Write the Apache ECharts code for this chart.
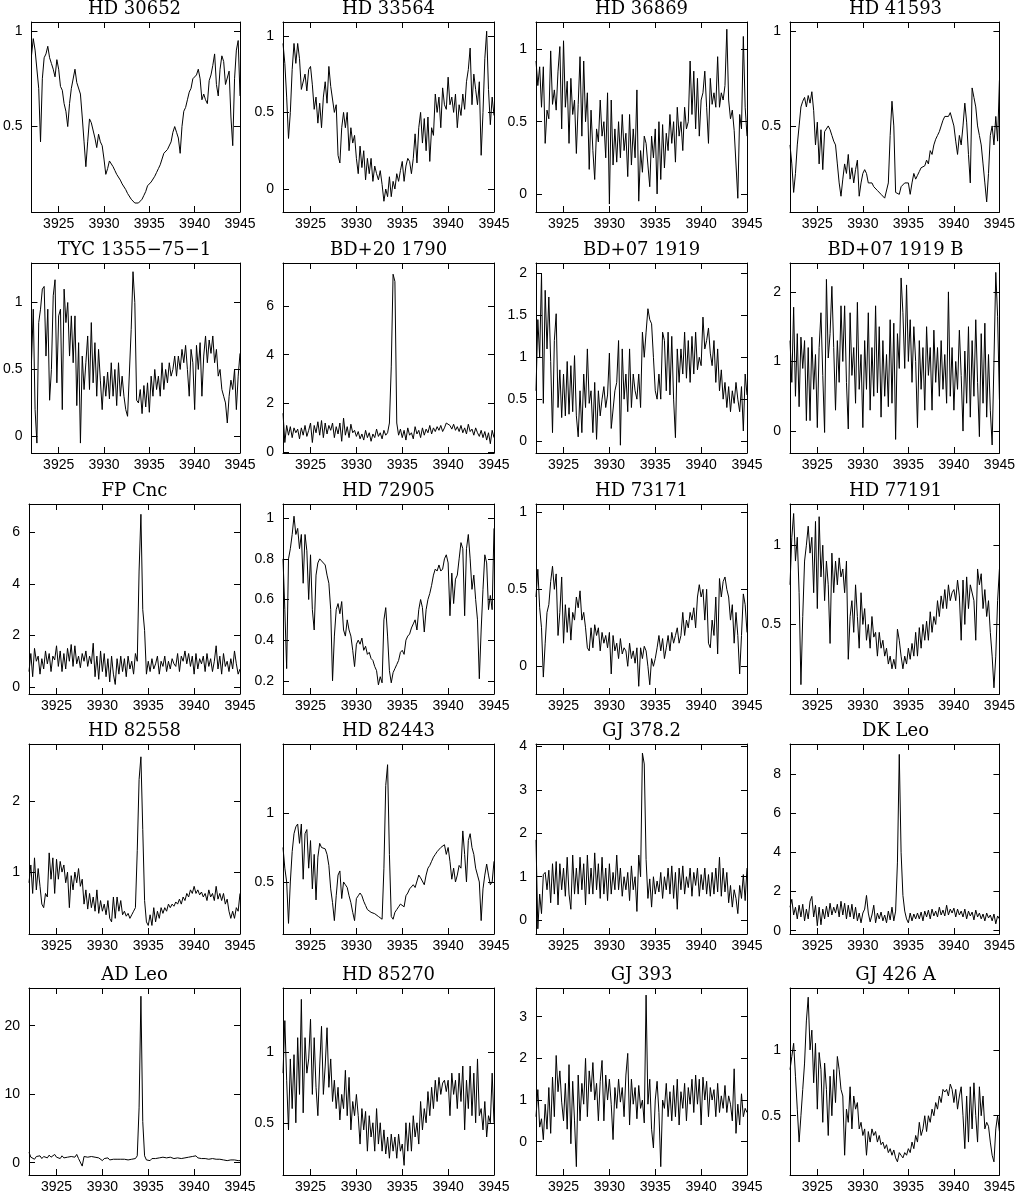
<!DOCTYPE html>
<html>
<head>
<meta charset="utf-8">
<script src="https://cdn.jsdelivr.net/npm/echarts@6/dist/echarts.min.js"></script>
<style>
html, body { margin: 0; padding: 0; background: #fff; }
#chart { width: 1018px; height: 1194px; }
</style>
</head>
<body>
<div id="chart"></div>
<script>
// wavelength grid (Angstrom), one sample every 0.2 A
const wavelength = [
  3922.0, 3922.2, 3922.4, 3922.6, 3922.8, 3923.0, 3923.2, 3923.4, 3923.6, 3923.8,
  3924.0, 3924.2, 3924.4, 3924.6, 3924.8, 3925.0, 3925.2, 3925.4, 3925.6, 3925.8,
  3926.0, 3926.2, 3926.4, 3926.6, 3926.8, 3927.0, 3927.2, 3927.4, 3927.6, 3927.8,
  3928.0, 3928.2, 3928.4, 3928.6, 3928.8, 3929.0, 3929.2, 3929.4, 3929.6, 3929.8,
  3930.0, 3930.2, 3930.4, 3930.6, 3930.8, 3931.0, 3931.2, 3931.4, 3931.6, 3931.8,
  3932.0, 3932.2, 3932.4, 3932.6, 3932.8, 3933.0, 3933.2, 3933.4, 3933.6, 3933.8,
  3934.0, 3934.2, 3934.4, 3934.6, 3934.8, 3935.0, 3935.2, 3935.4, 3935.6, 3935.8,
  3936.0, 3936.2, 3936.4, 3936.6, 3936.8, 3937.0, 3937.2, 3937.4, 3937.6, 3937.8,
  3938.0, 3938.2, 3938.4, 3938.6, 3938.8, 3939.0, 3939.2, 3939.4, 3939.6, 3939.8,
  3940.0, 3940.2, 3940.4, 3940.6, 3940.8, 3941.0, 3941.2, 3941.4, 3941.6, 3941.8,
  3942.0, 3942.2, 3942.4, 3942.6, 3942.8, 3943.0, 3943.2, 3943.4, 3943.6, 3943.8,
  3944.0, 3944.2, 3944.4, 3944.6, 3944.8, 3945.0
];

// normalised flux per star, same sampling as wavelength
const hd30652 = [
  0.87, 0.96, 0.9, 0.89, 0.7, 0.42, 0.75, 0.86, 0.88, 0.92, 0.86, 0.83, 0.8, 0.76, 0.85, 0.8, 0.71, 0.69, 0.62, 0.58, 0.5, 0.62, 0.7, 0.71, 0.8,
  0.73, 0.72, 0.67, 0.55, 0.42, 0.29, 0.42, 0.54, 0.52, 0.51, 0.44, 0.39, 0.46, 0.42, 0.4, 0.33, 0.25, 0.28, 0.32, 0.31, 0.29, 0.27, 0.25, 0.25, 0.22,
  0.2, 0.19, 0.17, 0.15, 0.14, 0.12, 0.11, 0.1, 0.09, 0.1, 0.11, 0.12, 0.14, 0.16, 0.19, 0.2, 0.21, 0.22, 0.24, 0.26, 0.28, 0.3, 0.33, 0.36, 0.37,
  0.38, 0.39, 0.42, 0.47, 0.5, 0.47, 0.44, 0.36, 0.5, 0.58, 0.6, 0.64, 0.68, 0.7, 0.75, 0.74, 0.77, 0.8, 0.75, 0.64, 0.67, 0.64, 0.62, 0.74, 0.77,
  0.82, 0.88, 0.72, 0.66, 0.8, 0.87, 0.84, 0.72, 0.72, 0.79, 0.55, 0.4, 0.75, 0.9, 0.95,
  0.66
];
const hd33564 = [
  0.95, 0.82, 0.6, 0.33, 0.5, 0.78, 0.95, 0.82, 0.95, 0.85, 0.65, 0.64, 0.75, 0.64, 0.78, 0.8, 0.68, 0.52, 0.6, 0.43, 0.56, 0.4, 0.6, 0.7, 0.56,
  0.8, 0.67, 0.66, 0.5, 0.55, 0.22, 0.17, 0.4, 0.5, 0.4, 0.5, 0.25, 0.4, 0.3, 0.35, 0.2, 0.1, 0.28, 0.14, 0.25, 0.06, 0.2, 0.1, 0.2, 0.05,
  0.15, 0.1, 0.06, 0.12, 0.03, -0.08, 0.0, -0.05, 0.08, -0.05, 0.05, 0.0, 0.1, 0.05, 0.12, 0.18, 0.05, 0.15, 0.2, 0.18, 0.1, 0.2, 0.36, 0.17, 0.4,
  0.5, 0.3, 0.46, 0.25, 0.47, 0.18, 0.4, 0.35, 0.62, 0.5, 0.6, 0.4, 0.66, 0.55, 0.52, 0.73, 0.55, 0.6, 0.5, 0.62, 0.4, 0.55, 0.48, 0.62, 0.52,
  0.7, 0.78, 0.92, 0.55, 0.75, 0.65, 0.55, 0.7, 0.22, 0.5, 0.85, 1.03, 0.65, 0.42, 0.6,
  0.48
];
const hd36869 = [
  0.92, 0.75, 0.88, 0.6, 0.88, 0.35, 0.58, 0.52, 0.99, 0.62, 0.72, 0.58, 0.85, 1.02, 0.45, 1.06, 0.6, 0.78, 0.35, 0.8, 0.55, 0.65, 0.28, 0.62, 0.95,
  0.4, 0.92, 0.5, 0.7, 0.17, 0.58, 0.3, 0.1, 0.45, 0.36, 0.65, 0.4, 0.5, 0.25, 0.7, -0.07, 0.65, 0.2, 0.45, 0.22, 0.5, 0.25, 0.55, 0.3, 0.42,
  0.12, 0.55, 0.2, 0.45, 0.25, 0.72, -0.05, 0.3, 0.15, 0.4, 0.35, 0.2, 0.05, 0.4, 0.25, 0.45, 0.0, 0.5, 0.1, 0.48, 0.18, 0.42, 0.3, 0.55, 0.35,
  0.5, 0.22, 0.6, 0.4, 0.5, 0.3, 0.6, 0.45, 0.5, 0.92, 0.55, 0.85, 0.45, 0.8, 0.4, 0.65, 0.7, 0.85, 0.6, 0.35, 0.8, 0.62, 0.7, 0.6, 0.95,
  0.6, 0.7, 0.65, 0.75, 1.14, 0.65, 0.52, 0.58, 0.44, 0.45, -0.03, 0.55, 0.45, 1.09, 0.6,
  0.4
];
const hd41593 = [
  0.4, 0.3, 0.15, 0.25, 0.4, 0.5, 0.6, 0.63, 0.65, 0.6, 0.66, 0.62, 0.68, 0.58, 0.4, 0.52, 0.3, 0.48, 0.27, 0.47, 0.46, 0.5, 0.48, 0.45, 0.42,
  0.4, 0.3, 0.2, 0.13, 0.22, 0.3, 0.25, 0.35, 0.22, 0.28, 0.2, 0.27, 0.32, 0.13, 0.2, 0.25, 0.27, 0.25, 0.2, 0.21, 0.2, 0.18, 0.17, 0.16, 0.15,
  0.14, 0.13, 0.12, 0.12, 0.2, 0.45, 0.63, 0.5, 0.15, 0.14, 0.14, 0.18, 0.17, 0.2, 0.19, 0.2, 0.14, 0.2, 0.25, 0.22, 0.24, 0.26, 0.28, 0.27, 0.29,
  0.32, 0.3, 0.37, 0.35, 0.4, 0.43, 0.45, 0.47, 0.5, 0.53, 0.55, 0.54, 0.55, 0.57, 0.58, 0.5, 0.42, 0.35, 0.45, 0.4, 0.5, 0.62, 0.52, 0.35, 0.2,
  0.7, 0.65, 0.6, 0.5, 0.45, 0.4, 0.3, 0.2, 0.1, 0.25, 0.45, 0.5, 0.4, 0.55, 0.42,
  0.74
];
const tyc1355 = [
  0.55, 0.95, 0.2, -0.05, 0.85, 0.95, 1.1, 1.12, 0.6, 0.95, 0.27, 0.5, 1.05, 1.17, 0.4, 0.9, 0.95, 0.2, 1.1, 0.85, 1.0, 0.6, 0.9, 0.55, 0.9,
  0.23, 0.7, -0.05, 0.6, 0.35, 0.55, 0.75, 0.35, 0.85, 0.4, 0.7, 0.3, 0.65, 0.42, 0.2, 0.45, 0.3, 0.48, 0.28, 0.55, 0.3, 0.5, 0.23, 0.55, 0.3,
  0.45, 0.3, 0.2, 0.15, 0.14, 0.8, 1.23, 1.0, 0.27, 0.25, 0.35, 0.17, 0.38, 0.22, 0.4, 0.18, 0.45, 0.3, 0.5, 0.35, 0.45, 0.3, 0.55, 0.35, 0.5,
  0.4, 0.55, 0.45, 0.5, 0.6, 0.45, 0.6, 0.5, 0.65, 0.55, 0.68, 0.5, 0.3, 0.65, 0.55, 0.2, 0.68, 0.5, 0.7, 0.3, 0.6, 0.75, 0.55, 0.72, 0.62,
  0.75, 0.55, 0.65, 0.45, 0.5, 0.35, 0.3, 0.25, 0.1, 0.3, 0.42, 0.35, 0.5, 0.2, 0.45,
  0.62
];
const bd201790 = [
  1.6, 0.4, 1.1, 0.7, 1.05, 0.6, 1.0, 0.8, 0.95, 0.55, 1.0, 0.7, 1.1, 0.65, 0.9, 1.2, 0.4, 1.1, 0.8, 1.25, 0.7, 1.3, 0.6, 1.2, 0.75,
  1.1, 0.9, 1.2, 0.6, 1.05, 0.75, 1.2, 0.45, 1.4, 0.7, 1.05, 0.6, 1.15, 0.8, 0.9, 0.65, 0.85, 0.55, 0.75, 0.5, 0.9, 0.6, 0.8, 0.45, 0.75,
  0.6, 0.95, 0.65, 0.8, 0.55, 0.9, 0.7, 0.8, 1.2, 3.5, 7.3, 7.0, 1.2, 0.7, 0.95, 0.6, 0.9, 0.5, 1.0, 0.7, 0.8, 0.55, 1.05, 0.75, 0.9,
  0.6, 1.0, 0.7, 0.95, 0.8, 1.1, 0.75, 1.0, 0.85, 1.05, 0.9, 1.1, 0.85, 1.0, 1.2, 1.25, 1.1, 0.95, 1.15, 0.9, 1.05, 0.85, 1.1, 0.8, 1.0,
  0.75, 1.15, 0.85, 0.95, 0.7, 1.0, 0.8, 0.65, 0.9, 0.6, 0.85, 0.5, 0.8, 0.35, 0.9,
  0.6
];
const bd071919 = [
  0.6, 1.45, 1.0, 2.0, 0.45, 1.8, 1.1, 1.72, 0.95, 0.1, 1.2, 1.52, 0.4, 0.85, 0.28, 0.8, 0.3, 0.95, 0.32, 0.9, 0.35, 1.02, 0.3, 0.05, 0.6,
  0.1, 0.8, 0.4, 1.1, 0.45, 0.6, 0.1, 0.7, 0.02, 0.6, 0.3, 0.5, 0.65, 0.4, 0.55, 1.05, 0.15, 0.15, 0.6, 0.7, 1.2, -0.05, 1.1, 0.5, 0.8,
  0.35, 1.1, 0.4, 0.8, 0.6, 0.5, 0.8, 0.4, 1.3, 1.0, 1.3, 1.58, 1.45, 1.4, 1.0, 0.6, 0.5, 0.8, 0.5, 1.3, 1.2, 0.6, 1.3, 0.55, 1.25,
  0.5, 0.04, 1.1, 0.7, 1.1, 0.8, 1.3, 0.75, 1.2, 0.7, 1.25, 0.8, 1.3, 0.85, 1.0, 0.9, 1.48, 1.1, 1.2, 1.35, 1.05, 0.9, 1.2, 0.7, 1.1,
  0.6, 0.85, 0.5, 0.7, 0.4, 0.65, 0.35, 0.6, 0.45, 0.7, 0.5, 0.35, 0.65, 0.12, 0.8,
  0.55
];
const bd071919b = [
  1.3, 0.7, 1.78, 0.5, 1.4, 0.35, 1.35, 0.9, 1.3, 0.15, 1.2, 0.15, 1.35, 0.6, 1.1, 0.05, 1.2, 1.7, 0.8, -0.02, 2.18, 1.05, 1.4, 2.08, 1.2,
  0.3, 1.3, 0.7, 1.8, 1.0, 1.8, 0.7, 0.03, 1.7, 0.8, 1.2, 0.4, 1.85, 0.6, 1.1, 0.05, 1.3, 0.6, 1.7, 0.3, 1.2, 0.5, 1.8, 0.55, 1.5,
  0.2, 1.3, 0.5, 1.1, 0.35, 1.6, 0.4, 1.55, -0.12, 1.4, 0.9, 2.2, 1.7, 0.9, 2.1, 1.0, 1.6, 0.7, 1.5, 1.0, 0.05, 1.3, 0.6, 1.2, 0.3,
  1.5, 0.8, 1.2, 0.3, 1.45, 0.7, 1.2, 0.5, 1.3, 0.6, 1.1, 0.4, 2.0, 0.5, 1.2, 0.3, 1.0, 0.6, 1.45, 0.8, 0.0, 1.15, 0.4, 1.5, 0.2,
  1.3, 0.5, 1.6, 0.7, -0.08, 1.4, 0.4, 1.55, 0.2, 1.1, 0.3, -0.2, 1.0, 2.28, 1.65,
  0.45
];
const fpCnc = [
  0.6, 1.3, 0.4, 1.5, 1.0, 1.2, 0.5, 1.1, 0.7, 1.4, 0.9, 1.3, 0.6, 1.2, 1.05, 1.6, 0.8, 1.4, 0.6, 1.3, 0.7, 1.5, 1.0, 1.65, 0.8,
  1.6, 0.9, 1.2, 0.75, 1.3, 1.0, 1.4, 0.8, 1.2, 0.9, 1.7, 0.4, 1.2, 0.3, 1.4, 0.6, 1.3, 0.4, 1.1, 0.2, 1.2, 0.5, 0.1, 1.1, 0.5,
  1.2, 0.6, 1.1, 0.4, 1.2, 0.7, 1.0, 0.5, 1.3, 1.0, 4.5, 6.7, 3.0, 2.2, 0.5, 1.0, 0.6, 1.1, 0.7, 0.9, 1.2, 0.5, 1.0, 0.8, 1.2,
  0.6, 1.0, 0.7, 1.1, 0.9, 0.8, 1.3, 0.6, 1.2, 1.0, 1.4, 0.9, 1.3, 0.8, 1.2, 0.5, 1.3, 0.7, 1.1, 0.9, 1.2, 0.6, 1.3, 0.8, 1.1,
  0.6, 1.0, 1.6, 0.7, 1.2, 0.5, 1.3, 0.8, 1.0, 0.6, 1.1, 0.7, 1.4, 0.9, 0.5,
  0.7
];
const hd72905 = [
  0.8, 0.55, 0.26, 0.8, 0.85, 0.92, 1.01, 0.92, 0.95, 0.85, 0.92, 0.68, 0.92, 0.84, 0.6, 0.82, 0.55, 0.45, 0.72, 0.78, 0.8, 0.79, 0.79, 0.77, 0.72,
  0.68, 0.55, 0.2, 0.42, 0.55, 0.58, 0.53, 0.59, 0.45, 0.42, 0.5, 0.45, 0.42, 0.35, 0.27, 0.38, 0.4, 0.38, 0.41, 0.35, 0.37, 0.33, 0.34, 0.31, 0.3,
  0.27, 0.25, 0.18, 0.22, 0.19, 0.5, 0.56, 0.42, 0.25, 0.19, 0.24, 0.26, 0.28, 0.3, 0.34, 0.35, 0.33, 0.4, 0.42, 0.43, 0.46, 0.48, 0.5, 0.45, 0.55,
  0.6, 0.56, 0.44, 0.55, 0.6, 0.63, 0.67, 0.72, 0.75, 0.74, 0.77, 0.74, 0.75, 0.8, 0.82, 0.78, 0.52, 0.73, 0.58, 0.7, 0.72, 0.8, 0.88, 0.85, 0.52,
  0.85, 0.92, 0.8, 0.65, 0.72, 0.6, 0.5, 0.21, 0.45, 0.65, 0.82, 0.78, 0.55, 0.62, 0.55,
  0.95
];
const hd73171 = [
  0.45, 0.63, 0.38, 0.25, -0.07, 0.15, 0.35, 0.4, 0.55, 0.65, 0.5, 0.6, 0.2, 0.35, 0.58, 0.15, 0.4, 0.22, 0.38, 0.17, 0.35, 0.3, 0.45, 0.38, 0.49,
  0.3, 0.35, 0.25, 0.12, 0.1, 0.25, 0.12, 0.27, 0.2, 0.25, 0.1, 0.22, 0.15, 0.2, 0.12, 0.22, -0.05, 0.2, 0.1, 0.15, 0.05, 0.18, 0.08, 0.12, 0.1,
  0.0, 0.15, 0.05, 0.1, 0.02, 0.12, -0.13, 0.12, 0.05, 0.13, 0.1, 0.0, -0.12, 0.05, 0.0, 0.05, 0.12, 0.2, 0.1, 0.18, 0.05, 0.12, 0.2, 0.1, 0.22,
  0.15, 0.2, 0.25, 0.15, 0.2, 0.35, 0.2, 0.3, 0.25, 0.35, 0.3, 0.38, 0.25, 0.45, 0.53, 0.45, 0.5, 0.3, 0.5, 0.15, 0.12, 0.3, 0.2, 0.45, 0.08,
  0.57, 0.45, 0.55, 0.58, 0.5, 0.45, 0.3, 0.4, 0.15, 0.35, 0.2, -0.05, 0.2, 0.47, 0.4,
  0.22
];
const hd77191 = [
  0.75, 1.05, 1.2, 0.9, 1.05, 0.7, 0.12, 0.55, 0.9, 1.0, 1.12, 0.95, 1.05, 0.7, 1.15, 0.6, 1.18, 0.8, 1.0, 0.65, 0.9, 0.75, 0.38, 0.95, 0.7,
  0.9, 0.75, 0.92, 0.8, 0.85, 0.7, 0.9, 0.28, 0.55, 0.65, 0.45, 0.75, 0.55, 0.35, 0.7, 0.5, 0.6, 0.4, 0.5, 0.35, 0.55, 0.42, 0.45, 0.3, 0.45,
  0.35, 0.4, 0.3, 0.35, 0.25, 0.3, 0.22, 0.28, 0.22, 0.47, 0.4, 0.3, 0.22, 0.3, 0.25, 0.35, 0.28, 0.38, 0.3, 0.45, 0.3, 0.48, 0.35, 0.5, 0.4,
  0.52, 0.4, 0.58, 0.45, 0.55, 0.5, 0.65, 0.55, 0.68, 0.6, 0.72, 0.6, 0.75, 0.65, 0.7, 0.72, 0.65, 0.78, 0.68, 0.4, 0.78, 0.5, 0.8, 0.6, 0.75,
  0.75, 0.65, 0.4, 0.85, 0.75, 0.82, 0.6, 0.72, 0.55, 0.65, 0.45, 0.3, 0.1, 0.3, 0.65,
  0.85
];
const hd82558 = [
  0.85, 1.1, 0.7, 1.2, 0.75, 1.05, 0.8, 0.55, 0.5, 0.7, 0.65, 1.27, 0.9, 1.2, 0.7, 1.18, 0.9, 1.15, 1.0, 1.1, 0.85, 1.0, 0.5, 0.95, 0.75,
  1.0, 0.85, 1.05, 0.8, 0.9, 0.55, 0.75, 0.48, 0.7, 0.5, 0.65, 0.45, 0.75, 0.42, 0.6, 0.45, 0.55, 0.4, 0.6, 0.35, 0.3, 0.65, 0.35, 0.65, 0.45,
  0.6, 0.4, 0.45, 0.38, 0.42, 0.35, 0.4, 0.45, 0.5, 1.3, 2.3, 2.62, 1.6, 0.6, 0.3, 0.25, 0.4, 0.25, 0.5, 0.3, 0.45, 0.35, 0.5, 0.42, 0.5,
  0.45, 0.55, 0.5, 0.55, 0.52, 0.58, 0.55, 0.62, 0.55, 0.65, 0.6, 0.7, 0.65, 0.75, 0.7, 0.8, 0.7, 0.75, 0.68, 0.72, 0.65, 0.7, 0.6, 0.75, 0.65,
  0.7, 0.6, 0.8, 0.62, 0.7, 0.6, 0.7, 0.55, 0.62, 0.45, 0.35, 0.45, 0.35, 0.5, 0.45,
  0.7
];
const hd82443 = [
  0.75, 0.6, 0.5, 0.2, 0.5, 0.72, 0.85, 0.9, 0.92, 0.78, 0.92, 0.52, 0.85, 0.88, 0.6, 0.8, 0.45, 0.7, 0.37, 0.68, 0.78, 0.75, 0.76, 0.74, 0.7,
  0.62, 0.45, 0.35, 0.22, 0.4, 0.55, 0.58, 0.38, 0.5, 0.48, 0.46, 0.4, 0.35, 0.28, 0.22, 0.38, 0.4, 0.42, 0.4, 0.36, 0.33, 0.3, 0.29, 0.28, 0.28,
  0.27, 0.26, 0.25, 0.24, 0.23, 0.6, 1.2, 1.35, 0.7, 0.25, 0.23, 0.28, 0.3, 0.32, 0.34, 0.35, 0.32, 0.4, 0.42, 0.45, 0.46, 0.48, 0.46, 0.45, 0.55,
  0.53, 0.52, 0.48, 0.55, 0.6, 0.62, 0.65, 0.68, 0.7, 0.72, 0.73, 0.75, 0.76, 0.77, 0.7, 0.75, 0.65, 0.52, 0.6, 0.5, 0.55, 0.62, 0.6, 0.87, 0.7,
  0.5, 0.8, 0.85, 0.75, 0.7, 0.6, 0.55, 0.5, 0.22, 0.45, 0.55, 0.63, 0.55, 0.48, 0.5,
  0.65
];
const gj3782 = [
  1.85, -0.2, 0.6, 0.15, 1.05, 1.1, 0.7, 1.15, 0.4, 1.3, 0.6, 1.35, 0.35, 1.3, 0.7, 1.2, 0.55, 1.45, 0.6, 0.25, 1.5, 0.6, 1.2, 0.6, 1.45,
  0.7, 1.3, 0.35, 1.5, 0.6, 1.2, 0.6, 1.55, 0.7, 1.3, 0.5, 1.45, 0.6, 1.2, 0.45, 1.3, 0.6, 1.1, 0.7, 1.5, 0.7, 1.2, 0.55, 1.0, 0.7,
  1.1, 0.45, 1.25, 0.7, 1.0, 0.2, 1.5, 1.0, 3.85, 3.6, 1.4, 0.5, 0.95, 0.3, 1.0, 0.6, 0.9, 0.65, 1.1, 0.5, 1.0, 0.7, 1.2, 0.6, 1.25,
  0.5, 1.1, 0.25, 1.2, 0.7, 1.25, 0.6, 1.0, 0.75, 1.2, 0.55, 1.1, 0.8, 1.2, 0.55, 1.05, 0.7, 1.2, 0.6, 1.05, 0.55, 1.1, 0.6, 1.2, 0.65,
  1.45, 0.55, 1.2, 0.65, 1.1, 0.4, 0.8, 0.3, 0.7, 0.5, 0.15, 0.8, 0.5, 1.05, 0.45,
  1.2
];
const dkLeo = [
  1.2, 1.6, 0.8, 1.2, 0.6, 1.3, 0.7, 1.35, 0.5, 1.1, 0.6, 1.5, 1.75, 0.7, 1.3, 0.25, 1.2, 0.3, 1.1, 0.6, 1.25, 0.7, 1.4, 0.8, 1.2,
  0.9, 1.35, 0.7, 1.5, 0.8, 1.4, 0.6, 1.3, 0.7, 1.35, 0.6, 1.2, 0.5, 0.9, 0.4, 0.9, 1.1, 1.8, 0.9, 0.45, 0.8, 1.3, 0.4, 0.9, 0.6,
  0.95, 0.5, 0.8, 0.4, 1.0, 0.55, 1.2, 0.5, 1.0, 3.5, 9.0, 4.0, 1.8, 1.0, 0.6, 0.4, 0.9, 0.5, 0.85, 0.6, 0.9, 0.6, 0.95, 0.5, 1.0,
  0.7, 1.05, 0.6, 1.1, 0.75, 1.0, 0.7, 1.2, 0.8, 1.05, 0.75, 1.3, 0.8, 1.1, 0.9, 1.15, 0.7, 1.1, 0.8, 1.0, 0.7, 1.1, 0.6, 1.0, 0.75,
  0.95, 0.55, 1.05, 0.7, 0.9, 0.6, 0.85, 0.5, 0.9, 0.65, 0.8, 0.5, 0.85, 0.35, 0.75,
  0.6
];
const adLeo = [
  1.5, 0.8, 1.0, 0.5, 0.9, 0.7, 1.0, 0.6, 0.9, 1.0, 0.7, 1.1, 0.8, 0.9, 1.2, 0.8, 0.9, 0.6, 1.0, 0.7, 0.9, 0.8, 0.6, 0.9, 0.7,
  0.8, 1.2, 0.6, 0.8, -0.5, 0.9, 0.7, 0.8, 0.6, 0.9, 0.7, 0.8, 0.6, 0.7, 0.5, 0.3, 0.6, 0.5, 0.7, 0.4, 0.6, 0.5, 0.7, 0.5, 0.6,
  0.5, 0.7, 0.5, 0.6, 0.4, 0.6, 0.5, 0.7, 0.6, 1.0, 8.0, 24.3, 6.0, 1.0, 0.4, 0.5, 0.3, 0.6, 0.4, 0.6, 0.5, 0.7, 0.6, 0.8, 0.6,
  0.7, 0.6, 0.8, 0.7, 0.6, 0.8, 0.7, 0.9, 0.6, 0.8, 0.7, 0.9, 0.8, 0.7, 0.9, 0.8, 1.0, 0.7, 0.8, 0.6, 0.7, 0.6, 0.8, 0.5, 0.7,
  0.6, 0.7, 0.5, 0.6, 0.5, 0.6, 0.4, 0.5, 0.3, 0.5, 0.4, 0.3, 0.4, 0.2, 0.3,
  0.3
];
const hd85270 = [
  0.85, 1.22, 0.8, 0.45, 0.95, 0.6, 0.98, 0.5, 1.1, 0.7, 1.37, 0.57, 1.1, 0.85, 0.95, 1.23, 0.7, 1.1, 0.75, 0.55, 0.9, 1.18, 0.7, 0.9, 1.17,
  0.75, 0.95, 0.65, 0.8, 0.6, 0.75, 0.52, 0.7, 0.6, 0.87, 0.55, 0.82, 0.45, 0.65, 0.55, 0.7, 0.55, 0.35, 0.6, 0.45, 0.58, 0.3, 0.55, 0.4, 0.5,
  0.3, 0.6, 0.35, 0.5, 0.3, 0.45, 0.28, 0.4, 0.25, 0.42, 0.3, 0.4, 0.25, 0.42, 0.3, 0.35, 0.2, 0.5, 0.3, 0.5, 0.3, 0.55, 0.4, 0.5, 0.35,
  0.65, 0.45, 0.6, 0.5, 0.72, 0.55, 0.75, 0.6, 0.8, 0.65, 0.82, 0.7, 0.78, 0.8, 0.72, 0.8, 0.55, 0.85, 0.7, 0.8, 0.6, 0.85, 0.65, 0.9, 0.45,
  0.8, 0.6, 0.9, 0.55, 0.85, 0.5, 0.95, 0.55, 0.6, 0.45, 0.65, 0.4, 0.55, 0.5, 0.85,
  0.5
];
const gj393 = [
  0.6, 1.25, 0.35, 0.55, 0.05, 0.9, 0.3, 1.3, 0.2, 1.55, 0.6, 2.07, 1.2, 1.7, 0.95, 0.5, 1.4, 0.3, 1.85, -0.05, 1.45, 0.5, -0.6, 1.6, 0.5,
  1.4, 0.9, 2.0, 0.6, 1.7, 1.2, 1.9, 1.0, 1.4, 0.5, 1.45, 1.95, 0.5, 1.6, 1.0, 1.5, 0.9, 0.05, 1.3, 0.8, 1.5, 0.95, 1.3, 0.6, 1.6,
  2.12, 0.4, 1.5, 0.9, 1.3, 0.55, 1.35, 0.8, 1.0, 0.45, 3.52, 0.9, 1.5, 0.3, -0.15, 1.0, 1.45, 0.7, -0.6, 1.0, 0.8, 1.4, 0.6, 1.2, 0.5,
  1.35, 0.6, 1.5, 0.4, 1.2, 0.8, 1.4, 0.5, 1.3, 0.9, 1.5, 0.7, 1.6, 0.9, 1.5, 0.4, 1.55, 1.0, 1.45, 0.6, 1.3, 1.0, 1.25, 0.6, 1.4,
  0.7, 1.1, 0.8, 1.35, 0.7, 1.1, 0.9, 0.5, 1.75, 0.2, 0.9, 0.4, 1.15, 0.6, 0.8,
  0.7
];
const gj426a = [
  0.85, 0.95, 1.05, 0.8, 0.55, 0.3, 0.5, 0.7, 0.9, 1.22, 1.4, 1.0, 1.15, 0.75, 1.05, 0.55, 0.98, 0.85, 0.45, 0.9, 0.7, 0.35, 0.8, 0.5, 0.85,
  0.6, 0.95, 0.85, 0.7, 0.65, 0.2, 0.55, 0.45, 0.72, 0.4, 0.65, 0.55, 0.6, 0.4, 0.45, 0.35, 0.4, 0.2, 0.38, 0.3, 0.4, 0.35, 0.38, 0.3, 0.35,
  0.28, 0.3, 0.25, 0.28, 0.22, 0.25, 0.2, 0.24, 0.18, 0.15, 0.22, 0.2, 0.18, 0.22, 0.2, 0.25, 0.22, 0.3, 0.25, 0.35, 0.3, 0.45, 0.35, 0.4, 0.5,
  0.38, 0.5, 0.45, 0.55, 0.5, 0.6, 0.55, 0.65, 0.6, 0.7, 0.68, 0.7, 0.65, 0.74, 0.7, 0.6, 0.7, 0.55, 0.65, 0.72, 0.5, 0.25, 0.65, 0.3, 0.72,
  0.4, 0.75, 0.5, 0.3, 0.72, 0.5, 0.65, 0.4, 0.45, 0.42, 0.3, 0.2, 0.15, 0.4, 0.5,
  0.38
];

const titles = [
  'HD 30652', 'HD 33564', 'HD 36869', 'HD 41593',
  'TYC 1355\u221275\u22121', 'BD+20 1790', 'BD+07 1919', 'BD+07 1919 B',
  'FP Cnc', 'HD 72905', 'HD 73171', 'HD 77191',
  'HD 82558', 'HD 82443', 'GJ 378.2', 'DK Leo',
  'AD Leo', 'HD 85270', 'GJ 393', 'GJ 426 A'
];
const fluxes = [
  hd30652, hd33564, hd36869, hd41593,
  tyc1355, bd201790, bd071919, bd071919b,
  fpCnc, hd72905, hd73171, hd77191,
  hd82558, hd82443, gj3782, dkLeo,
  adLeo, hd85270, gj393, gj426a
];
const yRanges = [
  [0.053, 1.047], [-0.15, 1.09], [-0.125, 1.19], [0.047, 1.047],
  [-0.124, 1.295], [-0.03, 7.76], [-0.143, 2.126], [-0.315, 2.415],
  [-0.27, 7.1], [0.135, 1.07], [-0.18, 1.054], [0.061, 1.26],
  [0.13, 2.8], [0.123, 1.5], [-0.32, 4.06], [-0.17, 9.53],
  [-1.8, 25.5], [0.132, 1.45], [-0.8, 3.69], [0.05, 1.47]
];
const yTicks = [
  [0.5, 1], [0, 0.5, 1], [0, 0.5, 1], [0.5, 1],
  [0, 0.5, 1], [0, 2, 4, 6], [0, 0.5, 1, 1.5, 2], [0, 1, 2],
  [0, 2, 4, 6], [0.2, 0.4, 0.6, 0.8, 1], [0, 0.5, 1], [0.5, 1],
  [1, 2], [0.5, 1], [0, 1, 2, 3, 4], [0, 2, 4, 6, 8],
  [0, 10, 20], [0.5, 1], [0, 1, 2, 3], [0.5, 1]
];
const xTicks = [3925, 3930, 3935, 3940, 3945];

const colLeft = [29, 283, 536, 790];
const rowTop = [22, 263, 504, 744, 988];
const plotW = 211;
const plotH = 190;
const LABEL_FONT = 'Liberation Sans';
const ink = '#000';

const grids = [], xAxes = [], yAxes = [], series = [], texts = [];

titles.forEach((name, k) => {
  const left = colLeft[k % 4];
  const top = rowTop[Math.floor(k / 4)];
  grids.push({ left, top, width: plotW, height: plotH, show: false });

  const xBase = {
    type: 'value', gridIndex: k, min: 3922, max: 3945,
    axisLine: { show: true, onZero: false, lineStyle: { color: ink, width: 1 } },
    axisTick: { show: true, inside: true, length: 6, customValues: xTicks, lineStyle: { color: ink } },
    splitLine: { show: false },
  };
  xAxes.push({
    ...xBase, position: 'bottom',
    axisLabel: {
      customValues: xTicks, margin: 5, color: ink,
      fontFamily: LABEL_FONT, fontSize: 14, formatter: (v) => String(v),
    },
  });
  xAxes.push({ ...xBase, position: 'top', axisLabel: { show: false } });

  const yBase = {
    type: 'value', gridIndex: k, min: yRanges[k][0], max: yRanges[k][1],
    axisLine: { show: true, onZero: false, lineStyle: { color: ink, width: 1 } },
    axisTick: { show: true, inside: true, length: 6, customValues: yTicks[k], lineStyle: { color: ink } },
    splitLine: { show: false },
  };
  yAxes.push({
    ...yBase, position: 'left',
    axisLabel: {
      customValues: yTicks[k], margin: 9, color: ink,
      fontFamily: LABEL_FONT, fontSize: 14, formatter: (v) => String(v),
    },
  });
  yAxes.push({ ...yBase, position: 'right', axisLabel: { show: false } });

  series.push({
    type: 'line',
    xAxisIndex: 2 * k,
    yAxisIndex: 2 * k,
    data: wavelength.map((w, i) => [w, fluxes[k][i]]),
    showSymbol: false,
    symbol: 'none',
    clip: true,
    lineStyle: { color: ink, width: 1 },
    emphasis: { disabled: true },
  });

  texts.push({
    type: 'text',
    x: left + plotW / 2,
    y: top - 12.5,
    style: {
      text: name, align: 'center', verticalAlign: 'middle',
      font: '18px "DejaVu Serif"', fill: ink,
    },
  });
});

const chart = echarts.init(document.getElementById('chart'), null, { renderer: 'canvas' });
chart.setOption({
  animation: false,
  backgroundColor: '#fff',
  grid: grids,
  xAxis: xAxes,
  yAxis: yAxes,
  series,
  graphic: texts,
});
</script>
</body>
</html>
